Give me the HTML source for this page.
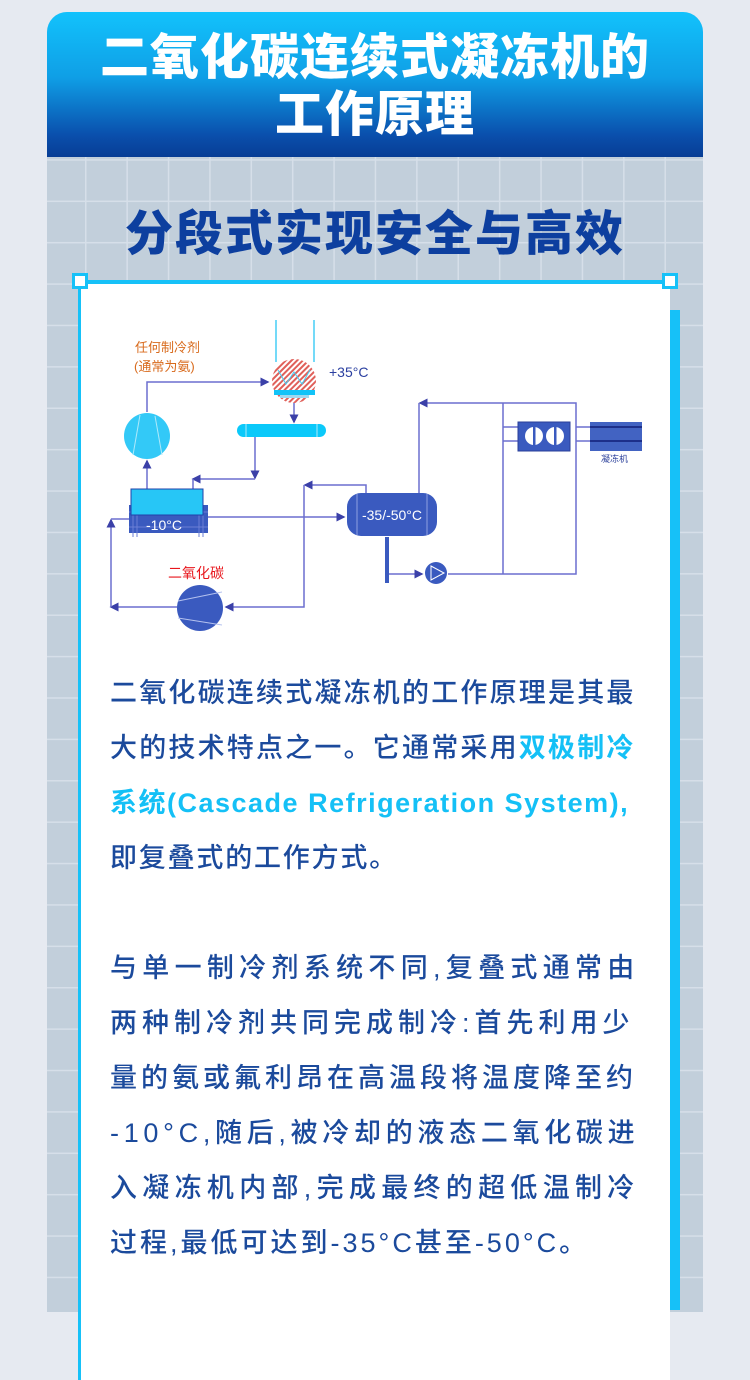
<!DOCTYPE html>
<html><head><meta charset="utf-8"><style>
*{margin:0;padding:0;box-sizing:border-box}
body{width:750px;height:1293px;overflow:hidden;background:#e6eaf1;position:relative;font-family:"Liberation Sans","Noto Sans CJK SC",sans-serif}
.panel{position:absolute;left:47px;top:12px;width:656px;height:1300px;background-color:#c2cfdb;
background-image:linear-gradient(#d6dfe9 1.5px,transparent 1.5px),linear-gradient(90deg,#d6dfe9 1.5px,transparent 1.5px);
background-size:41.4px 41.4px;background-position:38px 23px;border-radius:20px 20px 0 0;overflow:hidden}
.head{position:absolute;left:0;top:0;width:656px;height:145px;background:linear-gradient(#12c2fc 0%,#0f9fe6 45%,#0a4fac 85%,#073d95 100%);color:#fff;text-align:center;font-weight:900;font-size:49px;line-height:57px;padding-top:18px;letter-spacing:1px}
.sub{position:absolute;left:0;top:182px;width:656px;text-align:center;color:#0d3f9f;font-weight:900;font-size:48px;letter-spacing:2px}
.card{position:absolute;left:78px;top:280px;width:592px;height:1100px;background:#fff;border-left:3px solid #16c1f8;border-top:4px solid #16c1f8}
.strip{position:absolute;left:670px;top:310px;width:10px;height:1000px;background:#16c1f8}
.sq{position:absolute;width:16px;height:16px;background:#fff;border:3px solid #16c1f8}
.t{position:absolute;left:110px;color:#1b4a9c;font-size:27px;white-space:nowrap;line-height:30px;font-weight:500}
.h{color:#14c0f6;font-weight:bold}
</style></head><body>
<div class="panel">
<div class="head">二氧化碳连续式凝冻机的<br>工作原理</div>
<div class="sub">分段式实现安全与高效</div>
</div>
<div class="strip"></div>
<div class="card"></div>
<div class="sq" style="left:72px;top:273px"></div>
<div class="sq" style="left:662px;top:273px"></div>
<svg style="position:absolute;left:0;top:0" width="750" height="700">
<defs>
<marker id="a" markerWidth="6" markerHeight="6" refX="5" refY="3" orient="auto"><path d="M0,0L6,3L0,6z" fill="#3b40a8"/></marker>
<pattern id="hp" width="4" height="4" patternUnits="userSpaceOnUse" patternTransform="rotate(45)"><rect width="4" height="4" fill="#fff"/><rect width="2" height="4" fill="#e0605a"/></pattern>
</defs>
<g stroke="#6b6fcf" stroke-width="1.5" fill="none">
<line x1="276" y1="320" x2="276" y2="362" stroke="#45cdf5"/>
<line x1="314" y1="320" x2="314" y2="362" stroke="#45cdf5"/>
<polyline points="147,412 147,382 268,382" marker-end="url(#a)"/>
<line x1="147" y1="489" x2="147" y2="461" marker-end="url(#a)"/>
<line x1="294" y1="402" x2="294" y2="422" marker-end="url(#a)"/>
<polyline points="255,437 255,478" marker-end="url(#a)"/>
<polyline points="255,479 193,479" marker-end="url(#a)"/>
<line x1="193" y1="479" x2="193" y2="490"/>
<line x1="208" y1="517" x2="344" y2="517" marker-end="url(#a)"/>
<polyline points="366,494 366,485 305,485" marker-end="url(#a)"/>
<polyline points="304,485 304,607 226,607" marker-end="url(#a)"/>
<polyline points="177,607 111,607" marker-end="url(#a)"/>
<polyline points="111,607 111,520" marker-end="url(#a)"/>
<line x1="111" y1="519" x2="130" y2="519"/>
<line x1="389" y1="574" x2="422" y2="574" marker-end="url(#a)"/>
<polyline points="448,574 576,574 576,403 420,403" marker-end="url(#a)"/>
<line x1="419" y1="403" x2="419" y2="494"/>
<line x1="503" y1="574" x2="503" y2="403"/>
<line x1="503" y1="427" x2="518" y2="427"/><line x1="503" y1="441" x2="518" y2="441"/>
<line x1="576" y1="427" x2="590" y2="427"/><line x1="576" y1="441" x2="590" y2="441"/>
</g>
<circle cx="294" cy="381" r="22" fill="url(#hp)"/>
<polyline points="278,370 286,384 294,372 302,384 310,370" stroke="#45cdf5" stroke-width="1" fill="none"/>
<rect x="274" y="390" width="41" height="5" fill="#12c3f8"/>
<rect x="280" y="395" width="29" height="3" fill="#9fd8f0"/>
<text x="329" y="377" font-size="14" fill="#2a3fa0">+35°C</text>
<text x="135" y="352" font-size="13" fill="#d86a1c" font-family="Liberation Sans,Noto Sans CJK SC,sans-serif">任何制冷剂</text>
<text x="134" y="371" font-size="13" fill="#d86a1c" font-family="Liberation Sans,Noto Sans CJK SC,sans-serif">(通常为氨)</text>
<circle cx="147" cy="436" r="23" fill="#33c9f7"/>
<path d="M140,415 L133,455 M155,416 L162,455" stroke="#aee9fb" stroke-width="1"/>
<rect x="237" y="424" width="89" height="13" rx="6.5" fill="#0bc9fa"/>
<line x1="246" y1="424" x2="246" y2="437" stroke="#aee9fb"/><line x1="317" y1="424" x2="317" y2="437" stroke="#aee9fb"/>
<rect x="129" y="505" width="79" height="28" fill="#3a5abf"/>
<path d="M133,510V537M137,510V537M199,510V537M203,510V537M129,512H208M129,527H208" stroke="#6b7fd6" stroke-width="1"/>
<rect x="131" y="489" width="72" height="26" fill="#27c6f6" stroke="#2240a8" stroke-width="1"/>
<text x="146" y="530" font-size="14" fill="#fff">-10°C</text>
<rect x="347" y="493" width="90" height="43" rx="14" fill="#3a5abf"/>
<line x1="357" y1="494" x2="357" y2="535" stroke="#8da0e0"/><line x1="427" y1="494" x2="427" y2="535" stroke="#8da0e0"/>
<text x="392" y="520" font-size="14" fill="#fff" text-anchor="middle">-35/-50°C</text>
<rect x="385" y="537" width="4" height="46" fill="#3a5abf"/>
<circle cx="436" cy="573" r="11" fill="#3a5abf"/>
<path d="M431,566 L444,573 L431,580Z" fill="none" stroke="#fff" stroke-width="1"/>
<circle cx="200" cy="608" r="23" fill="#3a5abf"/>
<path d="M178,601 L222,592 M178,618 L222,625" stroke="#b5c2ef" stroke-width="1"/>
<text x="168" y="578" font-size="14" fill="#e8161c" font-family="Liberation Sans,Noto Sans CJK SC,sans-serif">二氧化碳</text>
<rect x="518" y="422" width="52" height="29" fill="#3a5abf" stroke="#2a3f9a"/>
<circle cx="534" cy="436" r="9" fill="#fff"/><circle cx="555" cy="436" r="9" fill="#fff"/>
<rect x="533" y="427" width="2.5" height="18" fill="#3a5abf"/><rect x="554" y="427" width="2.5" height="18" fill="#3a5abf"/>
<rect x="590" y="422" width="52" height="29" fill="#4263c2"/>
<rect x="590" y="426" width="52" height="2" fill="#1d2f8a"/><rect x="590" y="440" width="52" height="2" fill="#1d2f8a"/>
<text x="601" y="462" font-size="9" fill="#2a3f9a" font-family="Liberation Sans,Noto Sans CJK SC,sans-serif">凝冻机</text>
</svg>
<div class="t" style="top:678px;letter-spacing:2.2px">二氧化碳连续式凝冻机的工作原理是其最</div>
<div class="t" style="top:733px;letter-spacing:2.2px">大的技术特点之一。它通常采用<span class="h">双极制冷</span></div>
<div class="t h" style="top:788px;letter-spacing:1.5px">系统(Cascade Refrigeration System),</div>
<div class="t" style="top:843px;letter-spacing:1.8px">即复叠式的工作方式。</div>
<div class="t" style="top:953px;letter-spacing:5.3px">与单一制冷剂系统不同,复叠式通常由</div>
<div class="t" style="top:1008px;letter-spacing:5px">两种制冷剂共同完成制冷:首先利用少</div>
<div class="t" style="top:1063px;letter-spacing:4px">量的氨或氟利昂在高温段将温度降至约</div>
<div class="t" style="top:1118px;letter-spacing:4.7px">-10°C,随后,被冷却的液态二氧化碳进</div>
<div class="t" style="top:1173px;letter-spacing:5.3px">入凝冻机内部,完成最终的超低温制冷</div>
<div class="t" style="top:1228px;letter-spacing:3px">过程,最低可达到-35°C甚至-50°C。</div>
</body></html>
